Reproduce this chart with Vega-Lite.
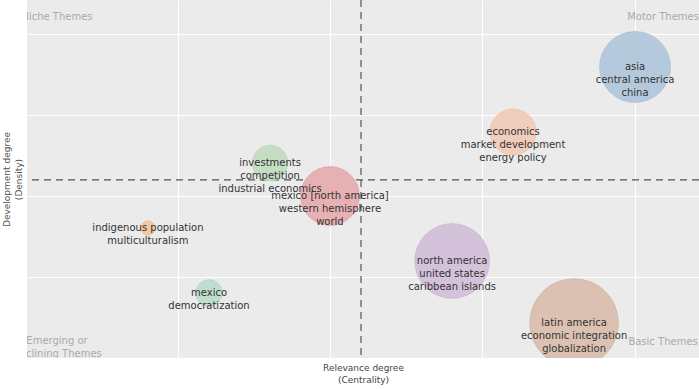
{
  "$schema": "https://vega.github.io/schema/vega-lite/v6.json",
  "width": 672,
  "height": 358,
  "autosize": {"type": "none"},
  "padding": {"left": 27, "top": 0, "right": 0, "bottom": 31},
  "background": "white",
  "config": {
    "view": {"fill": "#EBEBEB", "stroke": null},
    "font": "DejaVu Sans"
  },
  "datasets": {
    "clusters": [
      {"label": "asia\ncentral america\nchina", "centrality": 0.4002, "density": 0.3593, "freq": 64, "cluster": "c1"},
      {"label": "economics\nmarket development\nenergy policy", "centrality": 0.3201, "density": 0.2790, "freq": 27, "cluster": "c2"},
      {"label": "investments\ncompetition\nindustrial economics", "centrality": 0.1606, "density": 0.2408, "freq": 16, "cluster": "c3"},
      {"label": "mexico [north america]\nwestern hemisphere\nworld", "centrality": 0.1999, "density": 0.2000, "freq": 44, "cluster": "c4"},
      {"label": "indigenous population\nmulticulturalism", "centrality": 0.0804, "density": 0.1605, "freq": 2.6, "cluster": "c5"},
      {"label": "mexico\ndemocratization", "centrality": 0.1205, "density": 0.0803, "freq": 9, "cluster": "c6"},
      {"label": "north america\nunited states\ncaribbean islands", "centrality": 0.2801, "density": 0.1198, "freq": 71, "cluster": "c7"},
      {"label": "latin america\neconomic integration\nglobalization", "centrality": 0.3602, "density": 0.0432, "freq": 100, "cluster": "c8"}
    ],
    "means": [
      {"meanCentrality": 0.2203, "meanDensity": 0.2198}
    ],
    "quadrants": [
      {"name": "Niche Themes", "cx": 0.0207, "cy": 0.421},
      {"name": "Motor Themes", "cx": 0.4186, "cy": 0.421},
      {"name": "Emerging or\nDeclining Themes", "cx": 0.0207, "cy": 0.0205},
      {"name": "Basic Themes", "cx": 0.4186, "cy": 0.0198}
    ]
  },
  "layer": [
    {
      "data": {"name": "clusters"},
      "mark": {"type": "point", "opacity": 0},
      "encoding": {
        "x": {
          "field": "centrality", "type": "quantitative",
          "scale": {"domain": [0.001, 0.4422], "nice": false, "zero": false},
          "axis": {
            "values": [0.1, 0.2, 0.3, 0.4], "grid": true, "gridColor": "white", "gridWidth": 1,
            "labels": false, "ticks": false, "domain": false,
            "title": ["Relevance degree", "(Centrality)"],
            "titleFont": "DejaVu Sans", "titleFontSize": 9, "titleFontWeight": "normal",
            "titleColor": "#444", "titlePadding": 5, "titleLineHeight": 12
          }
        },
        "y": {
          "field": "density", "type": "quantitative",
          "scale": {"domain": [0, 0.442], "nice": false, "zero": false},
          "axis": {
            "values": [0.1, 0.2, 0.3, 0.4], "grid": true, "gridColor": "white", "gridWidth": 1,
            "labels": false, "ticks": false, "domain": false,
            "title": ["Development degree", "(Density)"],
            "titleFont": "DejaVu Sans", "titleFontSize": 9, "titleFontWeight": "normal",
            "titleColor": "#555", "titlePadding": 4, "titleLineHeight": 12
          }
        }
      }
    },
    {
      "data": {"name": "means"},
      "mark": {"type": "rule", "strokeDash": [7, 5], "color": "#555", "strokeWidth": 1.2},
      "encoding": {"x": {"field": "meanCentrality", "type": "quantitative"}}
    },
    {
      "data": {"name": "means"},
      "mark": {"type": "rule", "strokeDash": [7, 5], "color": "#555", "strokeWidth": 1.2},
      "encoding": {"y": {"field": "meanDensity", "type": "quantitative"}}
    },
    {
      "data": {"name": "clusters"},
      "mark": {"type": "circle", "clip": true, "opacity": 1, "strokeWidth": 0.8},
      "encoding": {
        "x": {"field": "centrality", "type": "quantitative"},
        "y": {"field": "density", "type": "quantitative"},
        "size": {"field": "freq", "type": "quantitative", "scale": {"type": "linear", "domain": [0, 100], "range": [0, 7854], "zero": true}, "legend": null},
        "color": {
          "field": "cluster", "type": "nominal", "legend": null,
          "scale": {
            "domain": ["c1", "c2", "c3", "c4", "c5", "c6", "c7", "c8"],
            "range": ["#b5c9dc", "#f1cdbb", "#c5ddc3", "#e7b0b2", "#f1c9a3", "#bedfcf", "#d3c2da", "#dbc1b1"]
          }
        },
        "stroke": {
          "field": "cluster", "type": "nominal", "legend": null,
          "scale": {
            "domain": ["c1", "c2", "c3", "c4", "c5", "c6", "c7", "c8"],
            "range": ["#a8bfd6", "#ecc3ae", "#b9d6b6", "#e0a3a6", "#ecbf94", "#b2d8c5", "#c9b6d2", "#d2b4a2"]
          }
        }
      }
    },
    {
      "data": {"name": "clusters"},
      "mark": {"type": "text", "lineBreak": "\n", "lineHeight": 13, "fontSize": 10, "font": "DejaVu Sans", "color": "#333", "align": "center", "baseline": "middle", "clip": true},
      "encoding": {
        "x": {"field": "centrality", "type": "quantitative"},
        "y": {"field": "density", "type": "quantitative"},
        "text": {"field": "label"}
      }
    },
    {
      "data": {"name": "quadrants"},
      "mark": {"type": "text", "lineBreak": "\n", "lineHeight": 12.5, "fontSize": 10, "font": "DejaVu Sans", "color": "#aaa", "align": "center", "baseline": "middle", "clip": true},
      "encoding": {
        "x": {"field": "cx", "type": "quantitative"},
        "y": {"field": "cy", "type": "quantitative"},
        "text": {"field": "name"}
      }
    }
  ]
}
